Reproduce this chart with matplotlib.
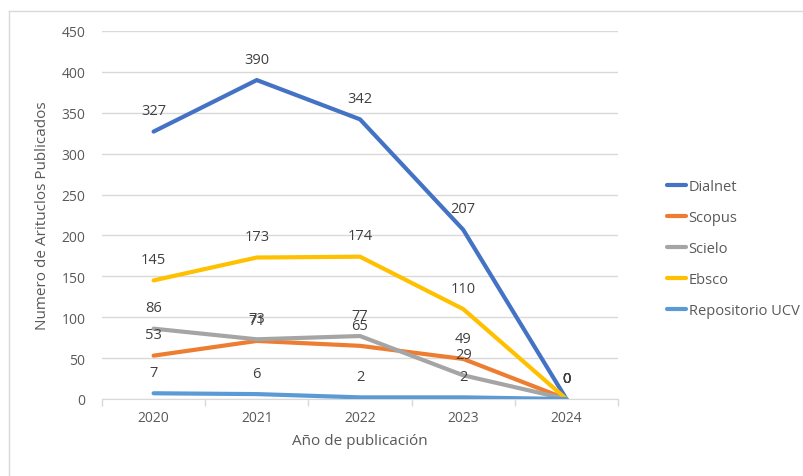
import matplotlib.pyplot as plt
from matplotlib.lines import Line2D

plt.rcParams['font.family'] = ['Open Sans', 'DejaVu Sans']

years = ['2020', '2021', '2022', '2023', '2024']
dialnet = [327, 390, 342, 207, 0]
scopus = [53, 71, 65, 49, 0]
scielo = [86, 73, 77, 29, 0]
ebsco = [145, 173, 174, 110, 0]
repositorio = [7, 6, 2, 2, 0]

series = [
    ('Dialnet', dialnet, '#4472C4'),
    ('Scopus', scopus, '#ED7D31'),
    ('Scielo', scielo, '#A5A5A5'),
    ('Ebsco', ebsco, '#FFC000'),
    ('Repositorio UCV', repositorio, '#5B9BD5'),
]

txt = '#595959'

fig = plt.figure(figsize=(8.04, 4.77), dpi=100)
ax = fig.add_axes([102/804, 1-400/477, 516/804, 368/477])

x = list(range(len(years)))
for name, vals, col in series:
    ax.plot(x, vals, color=col, lw=3, label=name, solid_capstyle='round', zorder=3)
    for xi, v in zip(x, vals):
        ax.annotate(str(v), (xi, v), xytext=(0, 15), textcoords='offset points',
                    ha='center', va='center', fontsize=10.5, color='#404040', zorder=4)

ax.set_xlim(-0.5, 4.5)
ax.set_ylim(0, 450)
ax.set_yticks(range(0, 451, 50))
ax.set_xticks(x)
ax.set_xticklabels(years)
ax.set_xticks([i - 0.5 for i in range(6)], minor=True)
ax.tick_params(axis='x', which='major', length=0, pad=8, labelsize=10, labelcolor=txt)
ax.tick_params(axis='x', which='minor', length=5, color='#D9D9D9', width=1)
ax.tick_params(axis='y', length=0, pad=12, labelsize=10, labelcolor=txt)
ax.grid(axis='y', color='#D9D9D9', lw=1)
ax.set_axisbelow(True)
for s in ['top', 'right', 'left']:
    ax.spines[s].set_visible(False)
ax.spines['bottom'].set_color('#D9D9D9')

ax.set_xlabel('Año de publicación', fontsize=11, color=txt, labelpad=6)
ax.set_ylabel('Numero de Arituclos Publicados', fontsize=11, color=txt, labelpad=8)

fig.legend(loc='upper left', bbox_to_anchor=(661/804, 1-174/477), frameon=False,
           fontsize=10.5, labelcolor=txt, handlelength=1.3, handletextpad=0.2,
           labelspacing=1.1, borderaxespad=0)

# chart area border
fig.add_artist(Line2D([9/804, 1], [1-12/477, 1-12/477], color='#D9D9D9', lw=1))
fig.add_artist(Line2D([9/804, 9/804], [0, 1-12/477], color='#D9D9D9', lw=1))

fig.savefig('out.png', dpi=100)
